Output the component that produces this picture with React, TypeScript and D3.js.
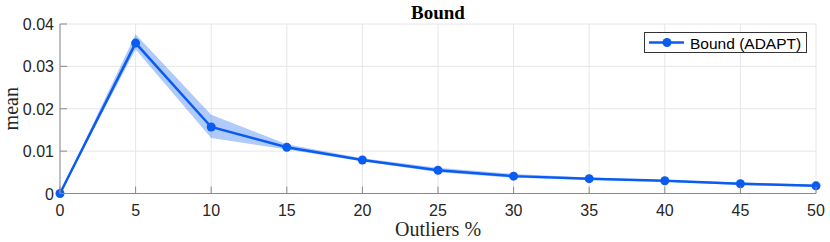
import React from 'react'
import * as d3 from 'd3'

const outliers = [0, 5, 10, 15, 20, 25, 30, 35, 40, 45, 50]
const meanValues = [0, 0.0355, 0.0157, 0.0109, 0.0079, 0.0055, 0.0041, 0.0035, 0.0030, 0.0023, 0.0018]
const bandLower = [0, 0.0340, 0.0131, 0.0104, 0.0076, 0.0050, 0.0037, 0.0032, 0.0028, 0.0020, 0.0016]
const bandUpper = [0, 0.0376, 0.0186, 0.0116, 0.0083, 0.0061, 0.0046, 0.0038, 0.0032, 0.0026, 0.0021]
const xTicks = [0, 5, 10, 15, 20, 25, 30, 35, 40, 45, 50]
const yTicks = [0, 0.01, 0.02, 0.03, 0.04]
const yTickLabels = ['0', '0.01', '0.02', '0.03', '0.04']
const seriesName = 'Bound (ADAPT)'

function App() {
  const width = 830
  const height = 242
  const left = 60, right = 816, top = 24, bottom = 193.5
  const color = '#0a5cf0'

  const x = d3.scaleLinear().domain([0, 50]).range([left, right])
  const y = d3.scaleLinear().domain([0, 0.04]).range([bottom, top])

  const pts = outliers.map((o, i) => ({ o, m: meanValues[i], lo: bandLower[i], hi: bandUpper[i] }))

  const line = d3.line<any>().x(d => x(d.o)).y(d => y(d.m))
  const area = d3.area<any>().x(d => x(d.o)).y0(d => y(d.lo)).y1(d => y(d.hi))

  const tickFont = 'Liberation Sans, Arial, sans-serif'
  const serif = 'Liberation Serif, Times New Roman, serif'

  return (
    <svg width={width} height={height} style={{ position: 'absolute', left: 0, top: 0, background: '#fff' }}>
      {/* grid */}
      {xTicks.map(t => (
        <line key={'gx' + t} x1={x(t)} x2={x(t)} y1={top} y2={bottom} stroke="#e6e6e6" strokeWidth={1} />
      ))}
      {yTicks.map(t => (
        <line key={'gy' + t} x1={left} x2={right} y1={y(t)} y2={y(t)} stroke="#e6e6e6" strokeWidth={1} />
      ))}

      {/* band + line */}
      <path d={area(pts) || ''} fill={color} fillOpacity={0.32} stroke="none" />
      <path d={line(pts) || ''} fill="none" stroke={color} strokeWidth={2.5} />
      {pts.map(p => (
        <circle key={'c' + p.o} cx={x(p.o)} cy={y(p.m)} r={4.5} fill={color} />
      ))}

      {/* axes */}
      <line x1={left} x2={right} y1={bottom} y2={bottom} stroke="#8a8a8a" strokeWidth={1} />
      <line x1={left} x2={left} y1={top} y2={bottom} stroke="#8a8a8a" strokeWidth={1} />
      {xTicks.map(t => (
        <g key={'tx' + t}>
          <line x1={x(t)} x2={x(t)} y1={bottom} y2={bottom - 7} stroke="#8a8a8a" />
          <text x={x(t)} y={bottom + 22.5} textAnchor="middle" fontFamily={tickFont} fontSize={16} fill="#262626">{t}</text>
        </g>
      ))}
      {yTicks.map((t, i) => (
        <g key={'ty' + t}>
          <line x1={left} x2={left + 7} y1={y(t)} y2={y(t)} stroke="#8a8a8a" />
          <text x={left - 6} y={y(t) + 6} textAnchor="end" fontFamily={tickFont} fontSize={16} fill="#262626">{yTickLabels[i]}</text>
        </g>
      ))}

      {/* labels */}
      <text x={(left + right) / 2} y={19} textAnchor="middle" fontFamily={serif} fontWeight="bold" fontSize={19} fill="#000">Bound</text>
      <text x={(left + right) / 2} y={236} textAnchor="middle" fontFamily={serif} fontSize={20} fill="#262626">Outliers %</text>
      <text transform={`translate(18,${(top + bottom) / 2}) rotate(-90)`} textAnchor="middle" fontFamily={serif} fontSize={20} fill="#262626">mean</text>

      {/* legend */}
      <rect x={644.5} y={32.5} width={162} height={20} fill="#fff" stroke="#333" strokeWidth={1} />
      <line x1={649} x2={684} y1={42.5} y2={42.5} stroke={color} strokeWidth={2.5} />
      <circle cx={667} cy={42.5} r={4.5} fill={color} />
      <text x={690} y={48.5} fontFamily={tickFont} fontSize={15.5} fill="#000">{seriesName}</text>
    </svg>
  )
}

export default App
